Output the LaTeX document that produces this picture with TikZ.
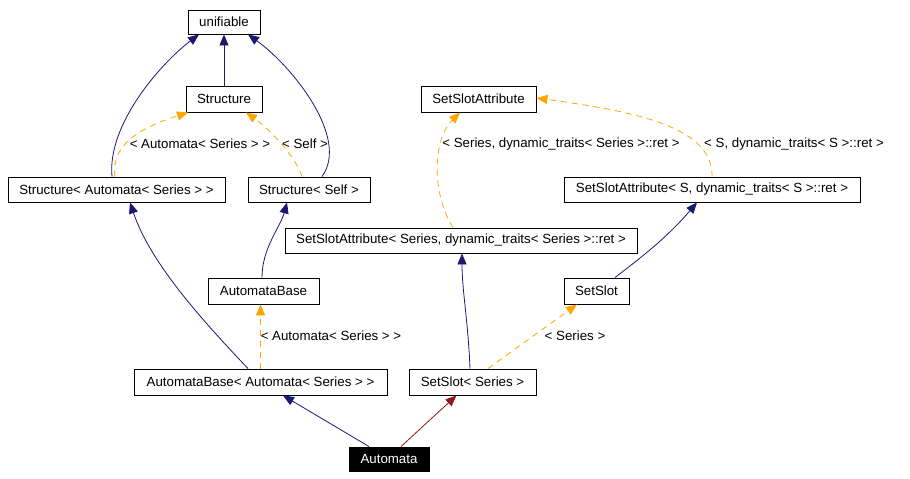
\documentclass[tikz,border=0pt]{standalone}
\usepackage{fontspec}
\setmainfont{Liberation Sans}
\usetikzlibrary{arrows.meta}
\definecolor{dblue}{HTML}{191970}
\definecolor{dorange}{HTML}{FFA500}
\definecolor{dred}{HTML}{8B1A1A}
\tikzset{
  cls/.style={draw=black, line width=0.9pt, fill=white, inner sep=0pt, font=\fontsize{13.3}{15}\selectfont},
  lbl/.style={inner sep=0pt, font=\fontsize{13.3}{15}\selectfont},
  inh/.style={draw=dblue, line width=0.8pt, -{Triangle[length=11pt,width=9pt]}},
  tmpl/.style={draw=dorange, line width=0.8pt, dash pattern=on 6pt off 5pt, -{Triangle[length=11pt,width=9pt]}},
  priv/.style={draw=dred, line width=0.8pt, -{Triangle[length=11pt,width=9pt]}},
}
\begin{document}
\begin{tikzpicture}[x=1pt,y=-1pt]
\useasboundingbox (0,0) rectangle (910,479);
% nodes
\node[cls, minimum width=72pt, minimum height=24pt] (unif) at (224,22) {unifiable};
\node[cls, minimum width=76pt, minimum height=26pt] (struct) at (224,99) {Structure};
\node[cls, minimum width=217pt, minimum height=25pt] (sas) at (116.5,189.5) {Structure< Automata< Series > >};
\node[cls, minimum width=122pt, minimum height=25pt] (sself) at (309,189.5) {Structure< Self >};
\node[cls, minimum width=115pt, minimum height=26pt] (ssa) at (478.5,99) {SetSlotAttribute};
\node[cls, minimum width=296pt, minimum height=25pt] (ssaS) at (712,189.5) {SetSlotAttribute< S, dynamic\_traits< S >::ret >};
\node[cls, minimum width=352pt, minimum height=25pt] (ssaSer) at (461,240.5) {SetSlotAttribute< Series, dynamic\_traits< Series >::ret >};
\node[cls, minimum width=111pt, minimum height=26pt] (ab) at (263.5,291) {AutomataBase};
\node[cls, minimum width=65pt, minimum height=26pt] (ss) at (596.5,291) {SetSlot};
\node[cls, minimum width=253pt, minimum height=26pt] (aba) at (260.5,382) {AutomataBase< Automata< Series > >};
\node[cls, minimum width=127pt, minimum height=26pt] (sss) at (472.5,382) {SetSlot< Series >};
\node[cls, fill=black, text=white, minimum width=80pt, minimum height=24pt] (auto) at (389,459) {Automata};
% edges
\draw[inh] (struct.north) -- (unif.south);
\draw[inh] ([xshift=-4.5pt]sas.north) .. controls (107,125) and (160,64) .. ([xshift=-25pt]unif.south);
\draw[inh] ([xshift=13pt]sself.north) .. controls (350,138) and (292,66) .. ([xshift=24pt]unif.south);
\draw[tmpl] ([xshift=-1.5pt]sas.north) .. controls (110,140) and (150,125) .. ([xshift=-36pt]struct.south);
\draw[tmpl] ([xshift=-7pt]sself.north) .. controls (295,155) and (268,128) .. ([xshift=22pt]struct.south);
\draw[inh] ([xshift=-1.5pt]ab.north) .. controls (262,248) and (280,228) .. ([xshift=-22pt]sself.south);
\draw[inh] ([xshift=-12.5pt]aba.north) .. controls (200,318) and (150,262) .. ([xshift=13.5pt]sas.south);
\draw[tmpl] (aba.north) -- (ab.south -| aba.north);
\draw[inh] ([xshift=-20pt]auto.north) -- ([xshift=22.5pt]aba.south);
\draw[priv] ([xshift=12pt]auto.north) -- ([xshift=-16pt]sss.south);
\draw[inh] ([xshift=-2.5pt]sss.north) .. controls (468,320) and (462,290) .. ([xshift=1pt]ssaSer.south);
\draw[tmpl] ([xshift=15.5pt]sss.north) -- ([xshift=-19.5pt]ss.south);
\draw[inh] ([xshift=18.5pt]ss.north) .. controls (635,262) and (665,240) .. ([xshift=-15pt]ssaS.south);
\draw[tmpl] ([xshift=-8pt]ssaSer.north) .. controls (432,195) and (432,140) .. ([xshift=-18.5pt]ssa.south);
\draw[tmpl] (ssaS.north) .. controls (713,128) and (640,112) .. ([yshift=1pt]ssa.east);
% labels
\node[lbl] (l1) at (200,144) {< Automata< Series > >};
\node[lbl] (l2) at (305,144) {< Self >};
\node[lbl] (l3) at (561,144) {< Series, dynamic\_traits< Series >::ret >};
\node[lbl] (l4) at (794,144) {< S, dynamic\_traits< S >::ret >};
\node[lbl] (l5) at (331,336) {< Automata< Series > >};
\node[lbl] (l6) at (575,336) {< Series >};
\end{tikzpicture}
\end{document}
